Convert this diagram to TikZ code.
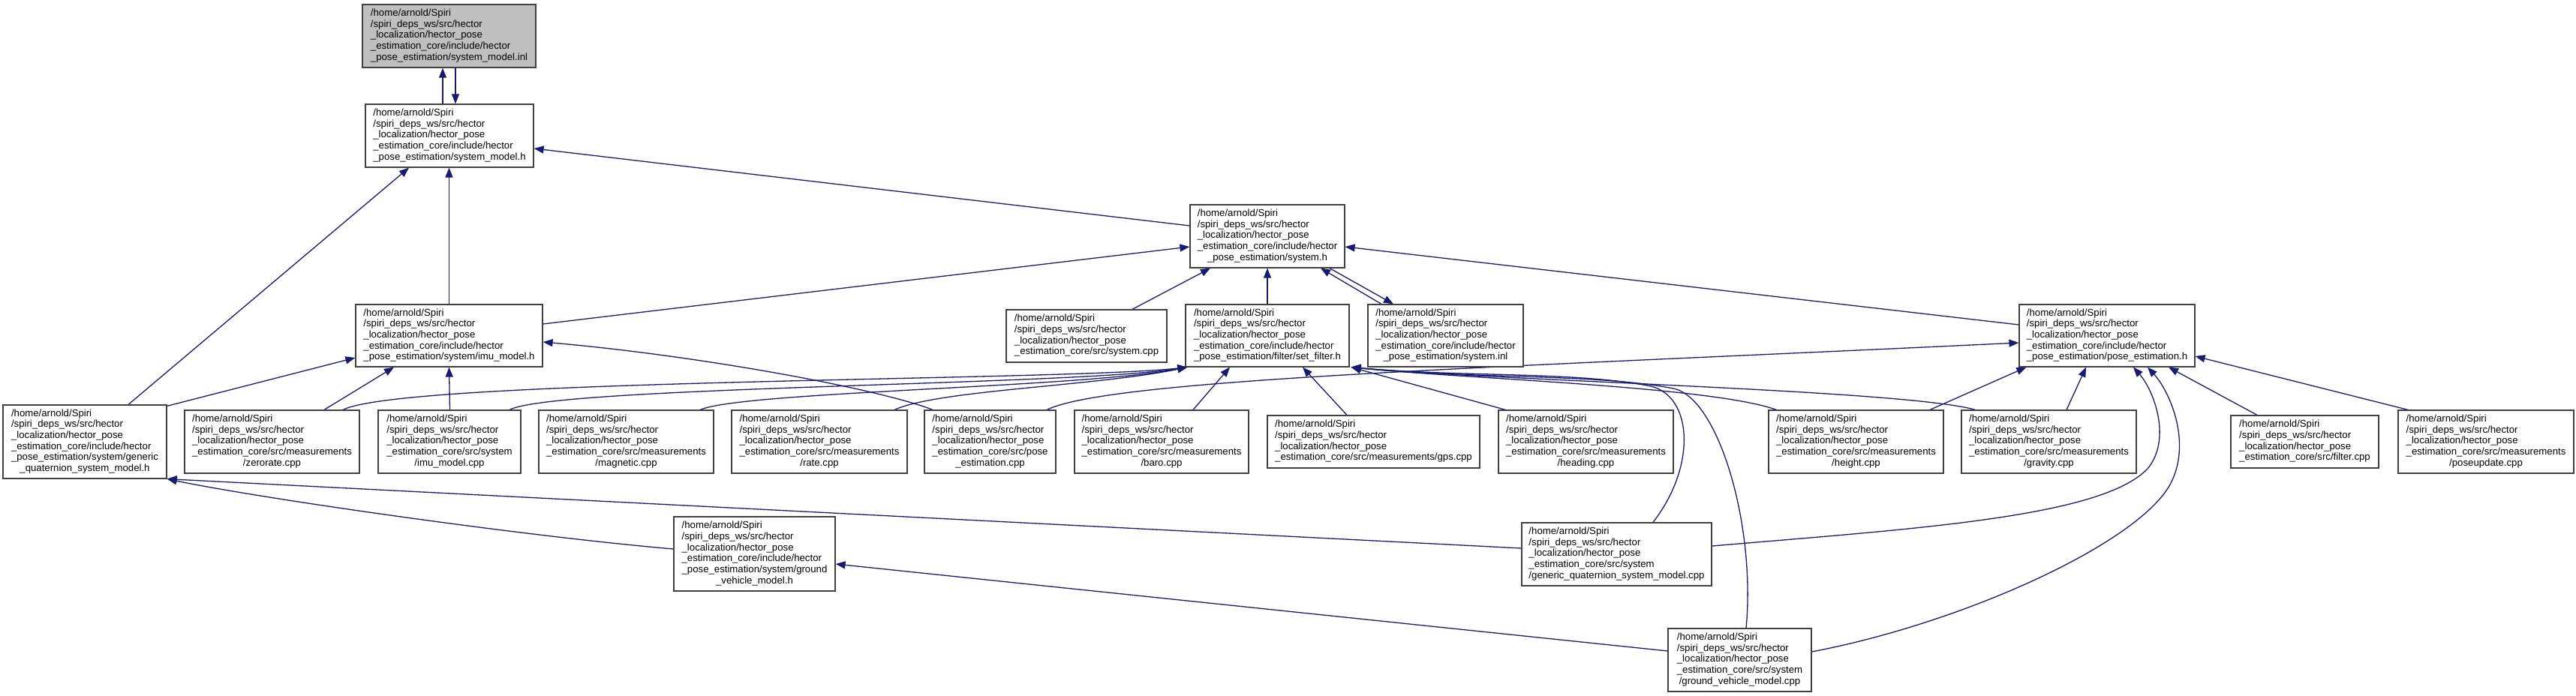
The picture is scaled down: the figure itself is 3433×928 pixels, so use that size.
\documentclass[tikz,border=0pt]{standalone}
\usepackage{fontspec}
\setmainfont{Liberation Sans}
\usetikzlibrary{arrows.meta}
\definecolor{edgecol}{HTML}{191970}
\definecolor{boxgray}{HTML}{BFBFBF}
\newcommand\dxl[2]{\begin{tabular}{@{}l@{}}#1\\\multicolumn{1}{@{}c@{}}{#2}\end{tabular}}
\newcommand\hpA{/home/arnold/Spiri\\/spiri\_deps\_ws/src/hector\\\_localization/hector\_pose}
\newcommand\hpB{\hpA\\\_estimation\_core/include/hector}
\newcommand\hpM{\hpA\\\_estimation\_core/src/measurements}
\newcommand\hpS{\hpA\\\_estimation\_core/src/system}
\pgfdeclarelayer{bg}
\pgfsetlayers{bg,main}
\begin{document}
\begin{tikzpicture}[x=1pt,y=1pt,
  dbox/.style={draw=black!75,line width=1.2pt,fill=white,inner sep=0pt,font=\fontsize{13.2pt}{14.7pt}\selectfont},
  lnk/.style={draw=edgecol,line width=1.3pt,-{Triangle[length=13pt,width=10pt]}}]
\begin{pgfonlayer}{bg}
\useasboundingbox[fill=white] (0,0) rectangle (3433,-928);
\end{pgfonlayer}
% row 1
\node[dbox,fill=boxgray,minimum width=231pt,minimum height=84pt] (inl) at (598.5,-48) {\dxl{\hpB}{\_pose\_estimation/system\_model.inl}};
% row 2
\node[dbox,minimum width=224pt,minimum height=84pt] (sm) at (599,-181) {\dxl{\hpB}{\_pose\_estimation/system\_model.h}};
\node[dbox,minimum width=206pt,minimum height=84pt] (sys) at (1689,-315) {\dxl{\hpB}{\_pose\_estimation/system.h}};
% row 3
\node[dbox,minimum width=249pt,minimum height=83pt] (imuh) at (598.5,-447.5) {\dxl{\hpB}{\_pose\_estimation/system/imu\_model.h}};
\node[dbox,minimum width=214pt,minimum height=70pt] (syscpp) at (1448,-448) {\dxl{\hpA}{\_estimation\_core/src/system.cpp}};
\node[dbox,minimum width=218pt,minimum height=83pt] (sf) at (1689,-447.5) {\dxl{\hpB}{\_pose\_estimation/filter/set\_filter.h}};
\node[dbox,minimum width=207pt,minimum height=83pt] (sysinl) at (1926.5,-447.5) {\dxl{\hpB}{\_pose\_estimation/system.inl}};
\node[dbox,minimum width=234pt,minimum height=83pt] (pe) at (2808,-447.5) {\dxl{\hpB}{\_pose\_estimation/pose\_estimation.h}};
% row 4
\node[dbox,minimum width=218pt,minimum height=98pt] (gqh) at (113,-589) {\dxl{\hpB\\\_pose\_estimation/system/generic}{\_quaternion\_system\_model.h}};
\node[dbox,minimum width=233pt,minimum height=84pt] (zr) at (362.5,-589) {\dxl{\hpM}{/zerorate.cpp}};
\node[dbox,minimum width=190pt,minimum height=84pt] (imucpp) at (599,-589) {\dxl{\hpS}{/imu\_model.cpp}};
\node[dbox,minimum width=233pt,minimum height=84pt] (mag) at (834.5,-589) {\dxl{\hpM}{/magnetic.cpp}};
\node[dbox,minimum width=234pt,minimum height=84pt] (rate) at (1092,-589) {\dxl{\hpM}{/rate.cpp}};
\node[dbox,minimum width=175pt,minimum height=84pt] (pecpp) at (1319.5,-589) {\dxl{\hpA\\\_estimation\_core/src/pose}{\_estimation.cpp}};
\node[dbox,minimum width=232pt,minimum height=84pt] (baro) at (1548,-589) {\dxl{\hpM}{/baro.cpp}};
\node[dbox,minimum width=283pt,minimum height=70pt] (gps) at (1830.5,-589) {\dxl{\hpA}{\_estimation\_core/src/measurements/gps.cpp}};
\node[dbox,minimum width=233pt,minimum height=84pt] (heading) at (2113.5,-589) {\dxl{\hpM}{/heading.cpp}};
\node[dbox,minimum width=233pt,minimum height=84pt] (height) at (2473.5,-589) {\dxl{\hpM}{/height.cpp}};
\node[dbox,minimum width=233pt,minimum height=84pt] (gravity) at (2730.5,-589) {\dxl{\hpM}{/gravity.cpp}};
\node[dbox,minimum width=197pt,minimum height=70pt] (filter) at (3071.5,-589) {\dxl{\hpA}{\_estimation\_core/src/filter.cpp}};
\node[dbox,minimum width=234pt,minimum height=84pt] (poseupd) at (3313,-589) {\dxl{\hpM}{/poseupdate.cpp}};
% row 5
\node[dbox,minimum width=215pt,minimum height=99pt] (gvmh) at (1005.5,-738.5) {\dxl{\hpB\\\_pose\_estimation/system/ground}{\_vehicle\_model.h}};
\node[dbox,minimum width=253pt,minimum height=84pt] (gqcpp) at (2154.5,-739) {\dxl{\hpS}{/generic\_quaternion\_system\_model.cpp}};
% row 6
\node[dbox,minimum width=191pt,minimum height=84pt] (gvmcpp) at (2318.5,-880) {\dxl{\hpS}{/ground\_vehicle\_model.cpp}};

\begin{pgfonlayer}{bg}
% top pair
\draw[lnk] ([xshift=-9pt]sm.north) -- ([xshift=-8.5pt]inl.south);
\draw[lnk] ([xshift=8.5pt]inl.south) -- ([xshift=8pt]sm.north);
% into system_model.h
\draw[lnk] ([yshift=14pt]sys.west) -- ([yshift=-17pt]sm.east);
\draw[lnk] (imuh.north) -- ([xshift=-0.5pt]sm.south);
\draw[lnk] ([xshift=58pt]gqh.north) -- ([xshift=-54pt]sm.south);
% into system.h
\draw[lnk] ([yshift=15.5pt]imuh.east) -- ([yshift=-14pt]sys.west);
\draw[lnk] ([xshift=61pt]syscpp.north) -- ([xshift=-76pt]sys.south);
\draw[lnk] (sf.north) -- (sys.south);
\draw[lnk] ([xshift=-85.5pt]sysinl.north) -- ([xshift=71pt]sys.south);
\draw[lnk] ([xshift=83pt]sys.south) -- ([xshift=-69.5pt]sysinl.north);
\draw[lnk] ([yshift=14.5pt]pe.west) -- ([yshift=-14pt]sys.east);
% into imu_model.h
\draw[lnk] ([yshift=-2pt]gqh.north east) -- ([yshift=-29.5pt]imuh.west);
\draw[lnk] ([xshift=69.5pt]zr.north) -- ([xshift=-73.5pt]imuh.south);
\draw[lnk] ([xshift=0.5pt]imucpp.north) -- (imuh.south);
\draw[lnk] ([xshift=-76.5pt]pecpp.north) .. controls (1170,-518) and (930,-474) .. ([yshift=-8.5pt]imuh.east);
% into set_filter.h, left side
\draw[lnk] ([xshift=94.5pt]zr.north) .. controls (540,-505) and (1420,-508) .. ([xshift=3pt]sf.south west);
\draw[lnk] ([xshift=80pt]imucpp.north) .. controls (740,-515) and (1430,-514) .. ([xshift=3pt]sf.south west);
\draw[lnk] ([xshift=98.5pt]mag.north) .. controls (990,-522) and (1440,-517) .. ([xshift=3pt]sf.south west);
\draw[lnk] ([xshift=100pt]rate.north) .. controls (1250,-520) and (1460,-515) .. ([xshift=3pt]sf.south west);
\draw[lnk] ([xshift=42pt]baro.north) -- ([xshift=-50pt]sf.south);
\draw[lnk] ([xshift=-35.5pt]gps.north) -- ([xshift=47pt]sf.south);
% into set_filter.h, right side
\draw[lnk] ([xshift=10pt]heading.north west) -- ([xshift=2pt]sf.south east);
\draw[lnk] ([xshift=11pt]height.north west) .. controls (2280,-515) and (1950,-505) .. ([xshift=2pt]sf.south east);
\draw[lnk] ([xshift=19pt]gravity.north west) .. controls (2540,-520) and (2000,-508) .. ([xshift=2pt]sf.south east);
\draw[lnk] ([xshift=48.5pt]gqcpp.north) .. controls (2262,-620) and (2255,-528) .. (2200,-515)
   .. controls (2100,-495) and (1950,-503) .. ([xshift=2pt]sf.south east);
\draw[lnk] ([xshift=8.5pt]gvmcpp.north) .. controls (2340,-700) and (2290,-530) .. (2230,-518)
   .. controls (2130,-498) and (1950,-505) .. ([xshift=2pt]sf.south east);
% into pose_estimation.h
\draw[lnk] ([xshift=75.5pt]pecpp.north) .. controls (1480,-505) and (2000,-490) .. ([yshift=-9.5pt]pe.west);
\draw[lnk] ([xshift=98.5pt]height.north) -- ([xshift=10pt]pe.south west);
\draw[lnk] ([xshift=23.5pt]gravity.north) -- ([xshift=-28pt]pe.south);
\draw[lnk] ([yshift=11pt]gqcpp.east) .. controls (2550,-705) and (2800,-690) .. (2862,-625)
   .. controls (2895,-585) and (2870,-520) .. ([xshift=35pt]pe.south);
\draw[lnk] ([yshift=11pt]gvmcpp.east) .. controls (2620,-830) and (2860,-720) .. (2895,-640)
   .. controls (2920,-585) and (2890,-520) .. ([xshift=54pt]pe.south);
\draw[lnk] ([xshift=-63.5pt]filter.north) -- ([xshift=82pt]pe.south);
\draw[lnk] ([xshift=-104pt]poseupd.north) -- ([yshift=-27.5pt]pe.east);
% into generic_quaternion_system_model.h
\draw[lnk] ([yshift=8pt]gqcpp.west) -- (gqh.south east);
\draw[lnk] ([yshift=6.5pt]gvmh.west) .. controls (700,-715) and (350,-665) .. (gqh.south east);
% into ground_vehicle_model.h
\draw[lnk] ([yshift=12pt]gvmcpp.west) -- ([yshift=-13.5pt]gvmh.east);
\end{pgfonlayer}
\end{tikzpicture}
\end{document}
